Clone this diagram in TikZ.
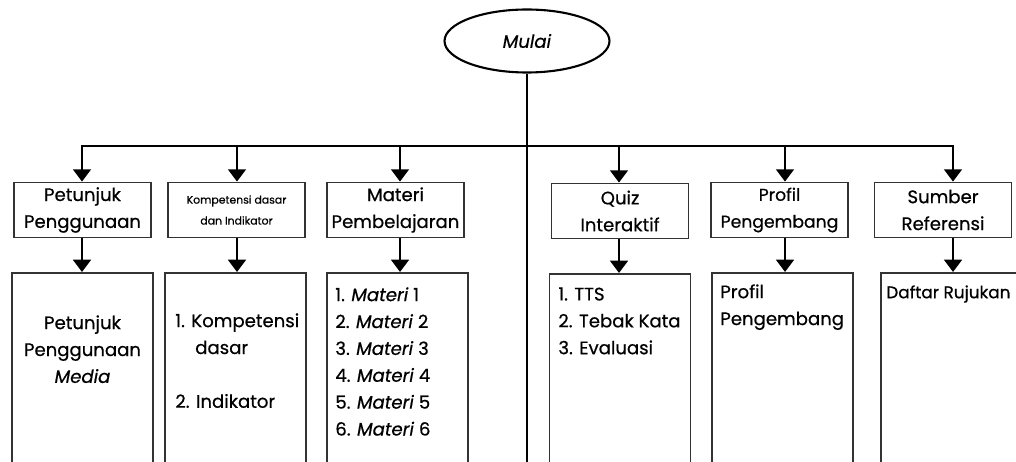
\documentclass[tikz,border=0pt]{standalone}
\usepackage{fontspec}
\setmainfont{Poppins}[FakeBold=0.6]
\usetikzlibrary{shapes.geometric,arrows.meta}

\begin{document}
\begin{tikzpicture}[x=0.02cm,y=-0.02cm,
    font=\fontsize{10.3}{15.3}\selectfont,
    conn/.style={line width=1.6pt},
    arr/.style={conn,-{Triangle[width=10pt,length=7pt]}},
    head/.style={draw=black!80,line width=1pt,minimum width=2.74cm,minimum height=1.1cm,align=center,inner sep=1pt},
    body/.style={draw=black!80,line width=1pt,minimum width=2.82cm,minimum height=4.3cm,anchor=north},
    item/.style={anchor=north west,align=left,inner sep=0pt}]
  \useasboundingbox (0,0) rectangle (1016,462);
  \clip (0,0) rectangle (1016,462);

  % Start
  \node[ellipse,draw,line width=1.2pt,minimum width=3.3cm,minimum height=1.26cm] (m) at (527,41) {\textit{Mulai}};

  % Menu
  \node[head] (h1) at (82.5,210) {Petunjuk\\Penggunaan};
  \node[head,font=\fontsize{6.2}{11.9}\selectfont] (h2) at (236.5,210) {Kompetensi dasar\\dan Indikator};
  \node[head] (h3) at (395.5,210) {Materi\\Pembelajaran};
  \node[head] (h4) at (620,211) {Quiz\\Interaktif};
  \node[head,font=\fontsize{9.8}{15.3}\selectfont] (h5) at (779.5,210) {Profil\\Pengembang};
  \node[head] (h6) at (943,210) {Sumber\\Referensi};

  % Contents
  \node[body] (c1) at (82.5,272) {};
  \node[body] (c2) at (235.5,272) {};
  \node[body] (c3) at (397.5,272) {};
  \node[body] (c4) at (620,273) {};
  \node[body] (c5) at (782.5,272) {};
  \node[body] (c6) at (951.5,272) {};

  \node[item,anchor=north,align=center] (p1) at (c1.north |- 0,315) {Petunjuk\\Penggunaan\\\textit{Media}};
  \node[item] (p2) at (175,313) {1. Kompetensi\\\hspace*{1.1em}dasar\\[15.3pt]2. Indikator};
  \node[item] (p3) at (335,287) {1. \textit{Materi} 1\\2. \textit{Materi} 2\\3. \textit{Materi} 3\\4. \textit{Materi} 4\\5. \textit{Materi} 5\\6. \textit{Materi} 6};
  \node[item] (p4) at (558,287) {1. TTS\\2. Tebak Kata\\3. Evaluasi};
  \node[item] (p5) at (720,284) {Profil\\Pengembang};
  \node[item,font=\fontsize{9.6}{15.3}\selectfont] (p6) at (886,285) {Daftar Rujukan};

  % Connectors
  \coordinate (t1) at (82,146);
  \coordinate (t2) at (237,146);
  \coordinate (t3) at (400,146);
  \coordinate (t4) at (619,146);
  \coordinate (t5) at (785,146);
  \coordinate (t6) at (953,146);
  \coordinate (e) at (527,470);

  \draw[conn] (m.south) -- (e);
  \draw[conn,line cap=rect] (t1) -- (t6);
  \foreach \i in {1,...,6}{
    \draw[arr] (t\i) -- (t\i |- h\i.north);
    \draw[arr] (t\i |- h\i.south) -- (t\i |- c\i.north);
  }
\end{tikzpicture}
\end{document}
